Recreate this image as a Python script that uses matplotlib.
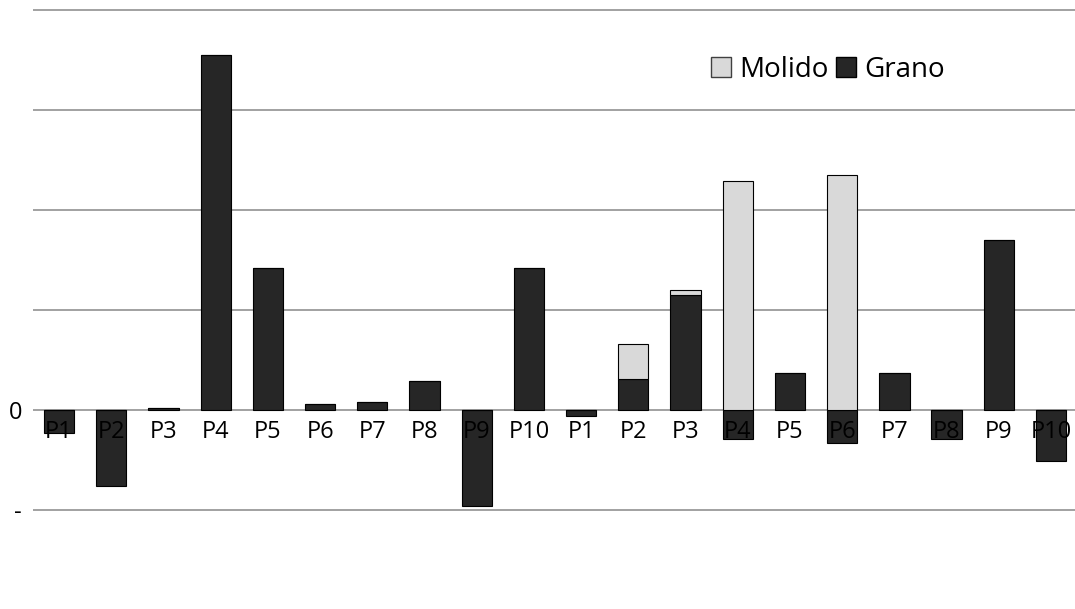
import numpy as np
import matplotlib
matplotlib.use("Agg")
import matplotlib.pyplot as plt
from matplotlib.patches import Patch

labels = ["P1", "P2", "P3", "P4", "P5", "P6", "P7", "P8", "P9", "P10"] * 2
grano = [-0.23, -0.76, 0.02, 3.55, 1.42, 0.06, 0.08, 0.29, -0.96, 1.42,
         -0.06, 0.31, 1.15, -0.29, 0.37, -0.33, 0.37, -0.29, 1.70, -0.51]
molido = [0, 0, 0, 0, 0, 0, 0, 0, 0, 0,
          0, 0.35, 0.05, 2.29, 0, 2.35, 0, 0, 0, 0]
ytick_vals = [-1, 0, 1, 2, 3, 4]
ytick_labels = ["-", "0", "", "", "", ""]

plt.rcParams["font.family"] = ["Open Sans", "DejaVu Sans"]

fig = plt.figure(figsize=(10.75, 6.09), dpi=100)
ax = fig.add_axes([33 / 1075, 0, 1 - 33 / 1075, 1])

x = np.arange(len(labels))
grano = np.array(grano)
molido = np.array(molido)

ax.bar(x, grano, width=0.58, color="#262626", edgecolor="#000000", linewidth=0.8, zorder=3)
ax.bar(x, molido, width=0.58, bottom=np.maximum(grano, 0), color="#d9d9d9",
       edgecolor="#000000", linewidth=0.8, zorder=3)

# category labels sit just under the zero line, drawn over the bars
for xi, lab in zip(x, labels):
    ax.text(xi, -0.1, lab, ha="center", va="top", fontsize=17, color="#000000", zorder=4)

ax.set_xlim(-0.5, 19.46)
ax.set_ylim(-1.99, 4.1)
ax.set_yticks(ytick_vals)
ax.set_yticklabels(ytick_labels, fontsize=17)
ax.set_xticks([])
ax.tick_params(axis="y", length=0, pad=8)
ax.yaxis.grid(True, color="#9a9a9a", linewidth=1.3, zorder=0)
ax.set_axisbelow(True)
for s in ax.spines.values():
    s.set_visible(False)

handles = [Patch(facecolor="#d9d9d9", edgecolor="#404040", label="Molido"),
           Patch(facecolor="#262626", edgecolor="#000000", label="Grano")]
ax.legend(handles=handles, loc="center left", bbox_to_anchor=(0.651, 1 - 70 / 609), ncol=2,
          frameon=False, fontsize=20, handlelength=0.72, handleheight=0.72,
          handletextpad=0.28, columnspacing=0.28, borderaxespad=0, borderpad=0)

fig.savefig("out.png", dpi=100)
